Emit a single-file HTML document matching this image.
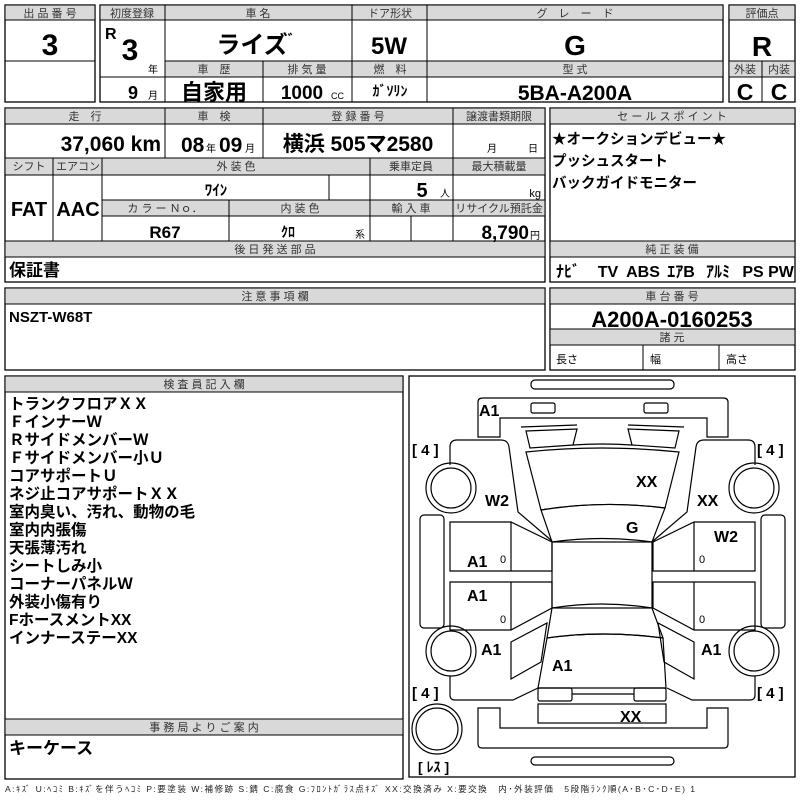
<!DOCTYPE html>
<html><head><meta charset="utf-8"><style>
html,body{margin:0;padding:0;background:#fff;}
svg{display:block;font-family:"Liberation Sans","Noto Sans CJK JP",sans-serif;}
.h{font-size:11px;fill:#333;text-anchor:middle;}
.b{font-weight:bold;font-family:"Liberation Sans Narrow","Liberation Sans","Noto Sans CJK JP",sans-serif;}
.c{text-anchor:middle;}
.g{fill:#d9d9d9;stroke:#000;stroke-width:1;}
.w{fill:#fff;stroke:#000;stroke-width:1.3;}
.l{stroke:#000;stroke-width:1;}
.d{fill:none;stroke:#000;stroke-width:1.2;}
.dt{font-weight:bold;font-size:16px;font-family:"Liberation Sans","Noto Sans CJK JP",sans-serif;}
</style></head><body>
<svg width="800" height="800" viewBox="0 0 800 800" xmlns="http://www.w3.org/2000/svg">
<!-- top left -->
<rect class="w" x="5" y="5" width="90" height="97"/>
<rect class="g" x="5" y="5" width="90" height="15"/>
<line class="l" x1="5" y1="61" x2="95" y2="61"/>
<text class="h" x="50" y="17">出 品 番 号</text>
<text class="b c" x="50" y="55" font-size="30">3</text>

<!-- block 2 -->
<rect class="w" x="100" y="5" width="623" height="97"/>
<rect class="g" x="100" y="5" width="623" height="15"/>
<rect class="g" x="165" y="61" width="558" height="16"/>
<line class="l" x1="165" y1="5" x2="165" y2="102"/>
<line class="l" x1="352" y1="5" x2="352" y2="102"/>
<line class="l" x1="427" y1="5" x2="427" y2="102"/>
<line class="l" x1="263" y1="61" x2="263" y2="102"/>
<line class="l" x1="100" y1="77" x2="165" y2="77"/>
<text class="h" x="132" y="17">初度登録</text>
<text class="h" x="258" y="17">車 名</text>
<text class="h" x="390" y="17">ドア形状</text>
<text class="h" x="575" y="17">グ　レ　ー　ド</text>
<text class="b" x="105" y="39" font-size="16">R</text>
<text class="b c" x="130" y="60" font-size="30">3</text>
<text x="148" y="73" font-size="10">年</text>
<text class="b c" x="133" y="99" font-size="18">9</text>
<text x="148" y="99" font-size="10">月</text>
<text class="b c" x="259" y="53" font-size="24">ライズ<tspan font-size="14" dy="-8">゛</tspan></text>
<text class="b c" x="389" y="54" font-size="24">5W</text>
<text class="b c" x="575" y="55" font-size="28">G</text>
<text class="h" x="214" y="73">車　歴</text>
<text class="h" x="307" y="73">排 気 量</text>
<text class="h" x="390" y="73">燃　料</text>
<text class="h" x="575" y="73">型 式</text>
<text class="b c" x="214" y="100" font-size="22">自家用</text>
<text class="b c" x="302" y="99" font-size="19">1000</text>
<text x="331" y="99" font-size="9">CC</text>
<text class="b c" x="390" y="96" font-size="14">ｶﾞｿﾘﾝ</text>
<text class="b c" x="575" y="100" font-size="21">5BA-A200A</text>

<!-- 評価点 -->
<rect class="w" x="729" y="5" width="66" height="97"/>
<rect class="g" x="729" y="5" width="66" height="15"/>
<rect class="g" x="729" y="61" width="66" height="16"/>
<line class="l" x1="762" y1="61" x2="762" y2="102"/>
<text class="h" x="762" y="17">評価点</text>
<text class="b c" x="762" y="56" font-size="28">R</text>
<text class="h" x="745" y="73">外装</text>
<text class="h" x="779" y="73">内装</text>
<text class="b c" x="745" y="100" font-size="23">C</text>
<text class="b c" x="779" y="100" font-size="23">C</text>

<!-- row 2 left -->
<rect class="w" x="5" y="108" width="540" height="174"/>
<rect class="g" x="5" y="108" width="540" height="16"/>
<rect class="g" x="5" y="158" width="540" height="17"/>
<rect class="g" x="102" y="200" width="443" height="16"/>
<rect class="g" x="5" y="241" width="540" height="16"/>
<line class="l" x1="165" y1="108" x2="165" y2="158"/>
<line class="l" x1="263" y1="108" x2="263" y2="158"/>
<line class="l" x1="453" y1="108" x2="453" y2="158"/>
<line class="l" x1="53" y1="158" x2="53" y2="241"/>
<line class="l" x1="102" y1="158" x2="102" y2="241"/>
<line class="l" x1="370" y1="158" x2="370" y2="241"/>
<line class="l" x1="453" y1="158" x2="453" y2="241"/>
<line class="l" x1="329" y1="175" x2="329" y2="200"/>
<line class="l" x1="229" y1="200" x2="229" y2="241"/>
<line class="l" x1="411" y1="216" x2="411" y2="241"/>
<text class="h" x="85" y="120">走　行</text>
<text class="h" x="214" y="120">車　検</text>
<text class="h" x="358" y="120">登 録 番 号</text>
<text class="h" x="499" y="120">譲渡書類期限</text>
<text class="b" x="161" y="151" font-size="21" text-anchor="end">37,060 km</text>
<text class="b" x="181" y="152" font-size="21">08</text>
<text x="206" y="152" font-size="10">年</text>
<text class="b" x="219" y="152" font-size="21">09</text>
<text x="245" y="152" font-size="10">月</text>
<text class="b c" x="358" y="151" font-size="21">横浜 505マ2580</text>
<text x="487" y="152" font-size="10">月</text>
<text x="528" y="152" font-size="10">日</text>
<text class="h" x="29" y="170">シフト</text>
<text class="h" x="78" y="170">エアコン</text>
<text class="h" x="236" y="170">外 装 色</text>
<text class="h" x="411" y="170">乗車定員</text>
<text class="h" x="499" y="170">最大積載量</text>
<text class="b c" x="216" y="195" font-size="15">ﾜｲﾝ</text>
<text class="b c" x="422" y="197" font-size="20">5</text>
<text x="440" y="197" font-size="10">人</text>
<text x="541" y="197" font-size="11" text-anchor="end">kg</text>
<text class="b c" x="29" y="216" font-size="20">FAT</text>
<text class="b c" x="78" y="216" font-size="20">AAC</text>
<text class="h" x="165" y="212">カ ラ ー Ｎｏ．</text>
<text class="h" x="300" y="212">内 装 色</text>
<text class="h" x="411" y="212">輸 入 車</text>
<text class="h" x="499" y="212">リサイクル預託金</text>
<text class="b c" x="165" y="238" font-size="17">R67</text>
<text class="b c" x="288" y="237" font-size="14">ｸﾛ</text>
<text x="355" y="238" font-size="10">系</text>
<text class="b" x="529" y="239" font-size="19" text-anchor="end">8,790</text>
<text x="530" y="239" font-size="10">円</text>
<text class="h" x="275" y="253">後 日 発 送 部 品</text>
<text x="9" y="276" font-size="17" font-weight="bold">保証書</text>

<!-- sales point -->
<rect class="w" x="550" y="108" width="245" height="174"/>
<rect class="g" x="550" y="108" width="245" height="16"/>
<rect class="g" x="550" y="241" width="245" height="16"/>
<text class="h" x="672" y="120">セ ー ル ス ポ イ ン ト</text>
<text x="552" y="144" font-size="14.5" font-weight="bold">★オークションデビュー★</text>
<text x="552" y="166" font-size="14.5" font-weight="bold">プッシュスタート</text>
<text x="552" y="188" font-size="14.5" font-weight="bold">バックガイドモニター</text>
<text class="h" x="672" y="253">純 正 装 備</text>
<g class="b" font-size="16" text-anchor="middle">
<text x="568" y="277">ﾅﾋﾞ</text><text x="608" y="277">TV</text><text x="643" y="277">ABS</text><text x="681" y="277">ｴｱB</text><text x="718" y="277">ｱﾙﾐ</text><text x="753" y="277">PS</text><text x="781" y="277">PW</text>
</g>

<!-- row 3 -->
<rect class="w" x="5" y="288" width="540" height="82"/>
<rect class="g" x="5" y="288" width="540" height="16"/>
<text class="h" x="275" y="300">注 意 事 項 欄</text>
<text class="b" x="9" y="322" font-size="15">NSZT-W68T</text>
<rect class="w" x="550" y="288" width="245" height="82"/>
<rect class="g" x="550" y="288" width="245" height="16"/>
<rect class="g" x="550" y="329" width="245" height="16"/>
<line class="l" x1="643" y1="345" x2="643" y2="370"/>
<line class="l" x1="719" y1="345" x2="719" y2="370"/>
<text class="h" x="672" y="300">車 台 番 号</text>
<text class="b c" x="672" y="327" font-size="22">A200A-0160253</text>
<text class="h" x="672" y="341">諸 元</text>
<text x="556" y="363" font-size="11">長さ</text>
<text x="650" y="363" font-size="11">幅</text>
<text x="726" y="363" font-size="11">高さ</text>

<!-- row 4 left -->
<rect class="w" x="5" y="376" width="398" height="403"/>
<rect class="g" x="5" y="376" width="398" height="16"/>
<rect class="g" x="5" y="719" width="398" height="16"/>
<text class="h" x="204" y="388">検 査 員 記 入 欄</text>
<g font-size="15.5" font-weight="bold">
<text x="9" y="409">トランクフロアＸＸ</text>
<text x="9" y="427">ＦインナーＷ</text>
<text x="9" y="445">ＲサイドメンバーＷ</text>
<text x="9" y="463">Ｆサイドメンバー小Ｕ</text>
<text x="9" y="481">コアサポートＵ</text>
<text x="9" y="499">ネジ止コアサポートＸＸ</text>
<text x="9" y="517">室内臭い、汚れ、動物の毛</text>
<text x="9" y="535">室内内張傷</text>
<text x="9" y="553">天張薄汚れ</text>
<text x="9" y="571">シートしみ小</text>
<text x="9" y="589">コーナーパネルＷ</text>
<text x="9" y="607">外装小傷有り</text>
<text x="9" y="625">FホースメントXX</text>
<text x="9" y="643">インナーステーXX</text>
</g>
<text class="h" x="204" y="731">事 務 局 よ り ご 案 内</text>
<text x="9" y="754" font-size="17" font-weight="bold">キーケース</text>

<!-- diagram -->
<rect class="w" x="409" y="376" width="386" height="401"/>
<g class="d">
<rect x="531" y="380" width="143" height="9" rx="4"/>
<path d="M478,437 L478,402 Q478,398 483,398 L723,398 Q728,398 728,402 L728,437 L707,437 L707,418 L500,418 L500,437 Z"/>
<rect x="531" y="403" width="24" height="10" rx="2"/>
<rect x="644" y="403" width="24" height="10" rx="2"/>
<path d="M521,427 L577,425 M684,425 L684,425 M628,425 L684,427"/>
<path d="M526,431 L577,429 L573,445 L530,448 Z"/>
<path d="M628,429 L679,431 L675,448 L632,445 Z"/>
<path d="M573,445 Q602,443 632,445"/>
<path d="M526,452 Q602,444 679,452 L665,508 Q602,500 541,510 Z"/>
<path d="M541,510 Q602,500 665,508 L652,542 Q602,535 552,542 Z"/>
<rect x="552" y="542" width="100" height="66"/>
<path d="M552,608 Q602,600 652,608 L663,638 Q602,630 547,638 Z"/>
<path d="M547,638 Q602,630 663,638 L666,688 L538,688 Z"/>
<rect x="538" y="688" width="34" height="13" rx="2"/>
<rect x="634" y="688" width="32" height="13" rx="2"/>
<line x1="572" y1="694" x2="634" y2="694"/>
<rect x="538" y="704" width="128" height="19"/>
<path d="M478,708 L500,708 L500,728 L707,728 L707,708 L728,708 L728,744 Q728,748 724,748 L482,748 Q478,748 478,744 Z"/>
<rect x="531" y="757" width="143" height="8" rx="4"/>
<circle cx="437" cy="729" r="25"/><circle cx="437" cy="729" r="21"/>
<g id="side">
<path d="M450,465 L450,447 Q450,440 457,440 L501,440 Q508,440 509,447 L518,512 L552,541"/>
<circle cx="451" cy="488" r="25"/><circle cx="451" cy="488" r="20"/>
<path d="M450,522 L511,522 L552,542 L552,571 L450,571 Z"/>
<line x1="511" y1="522" x2="511" y2="571"/>
<path d="M450,582 L552,582 L552,608 L511,630 L450,630 Z"/>
<line x1="511" y1="582" x2="511" y2="630"/>
<rect x="420" y="515" width="24" height="113" rx="4"/>
<circle cx="451" cy="651" r="25"/><circle cx="451" cy="651" r="20"/>
<path d="M511,642 L547,623 L541,662 L511,679 Z"/>
<path d="M450,676 L450,695 Q450,700 455,700 L513,700 L538,688"/>
</g>
<use href="#side" transform="translate(1205,0) scale(-1,1)"/>
</g>
<g class="dt">
<text x="479" y="416">A1</text>
<text x="412" y="455" font-size="15">[ 4 ]</text>
<text x="757" y="455" font-size="15">[ 4 ]</text>
<text x="412" y="698" font-size="15">[ 4 ]</text>
<text x="757" y="698" font-size="15">[ 4 ]</text>
<text x="485" y="506">W2</text>
<text x="636" y="487">XX</text>
<text x="697" y="506">XX</text>
<text x="626" y="533">G</text>
<text x="714" y="542">W2</text>
<text x="467" y="567">A1</text>
<text x="467" y="601">A1</text>
<text x="481" y="655">A1</text>
<text x="701" y="655">A1</text>
<text x="552" y="671">A1</text>
<text x="620" y="722">XX</text>
<text x="418" y="772" font-size="14">[ ﾚｽ ]</text>
</g>
<g font-size="11">
<text x="500" y="563">0</text><text x="500" y="623">0</text>
<text x="699" y="563">0</text><text x="699" y="623">0</text>
</g>
<text x="5" y="792" font-size="8.6" fill="#222" textLength="690">A:ｷｽﾞ U:ﾍｺﾐ B:ｷｽﾞを伴うﾍｺﾐ P:要塗装 W:補修跡 S:錆 C:腐食 G:ﾌﾛﾝﾄｶﾞﾗｽ点ｷｽﾞ XX:交換済み X:要交換　内･外装評価　5段階ﾗﾝｸ順(A･B･C･D･E) 1</text>
</svg>
</body></html>
